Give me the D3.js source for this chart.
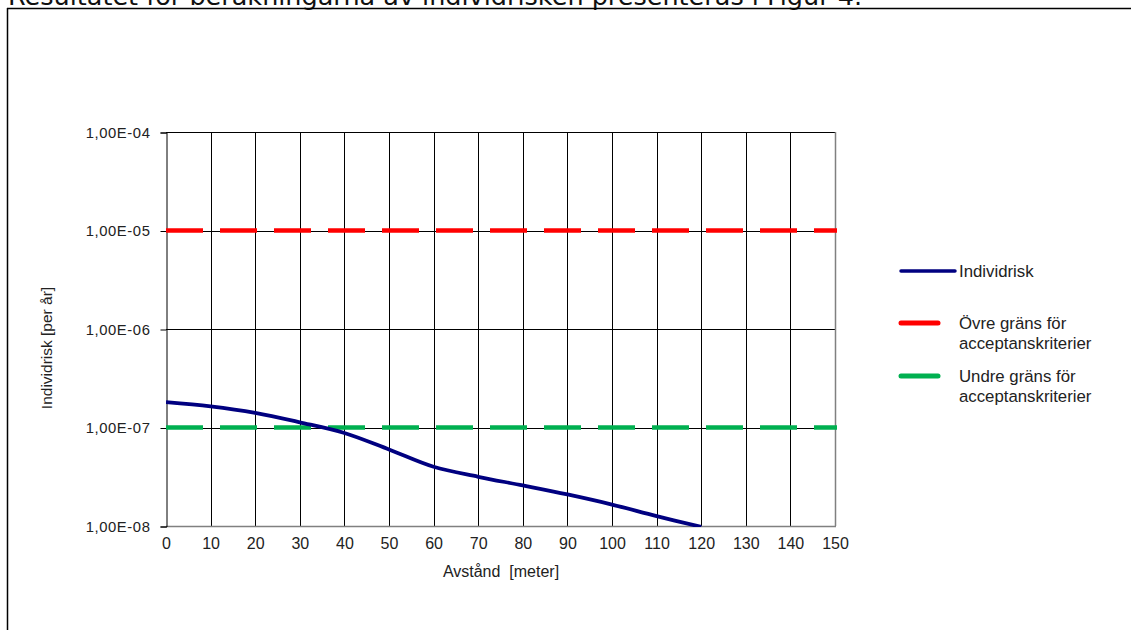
<!DOCTYPE html>
<html><head><meta charset="utf-8">
<script src="https://cdn.jsdelivr.net/npm/d3@7"></script>
<style>
body{margin:0;background:#fff;}
svg{display:block;}
</style></head>
<body>
<svg id="c" width="1131" height="630"></svg>
<script>
const distances = [0,10,20,30,40,50,60,70,80,90,100,110,120];
const individrisk = [1.81e-7,1.64e-7,1.41e-7,1.13e-7,8.8e-8,5.98e-8,3.99e-8,3.16e-8,2.58e-8,2.09e-8,1.65e-8,1.26e-8,9.8e-9];
const upperLimit = 1e-5;
const lowerLimit = 1e-7;
const xTicks = [0,10,20,30,40,50,60,70,80,90,100,110,120,130,140,150];
const yTicks = [1e-4,1e-5,1e-6,1e-7,1e-8];
const yTickLabels = ["1,00E-04","1,00E-05","1,00E-06","1,00E-07","1,00E-08"];
const seriesNames = ["Individrisk","Övre gräns för|acceptanskriterier","Undre gräns för|acceptanskriterier"];
const seriesColors = ["#000080","#FF0000","#00B050"];

const svg = d3.select("#c");
const font = "Liberation Sans, Arial, sans-serif";

// page fragment
svg.append("text").attr("x",8).attr("y",4.5).attr("font-family","DejaVu Sans, sans-serif")
  .attr("font-size",25.5).attr("fill","#111")
  .text("Resultatet för beräkningarna av individrisken presenteras i Figur 4.");
svg.append("line").attr("x1",7).attr("x2",1131).attr("y1",8.5).attr("y2",8.5).attr("stroke","#000").attr("stroke-width",1.5);
svg.append("line").attr("x1",7.5).attr("x2",7.5).attr("y1",8).attr("y2",630).attr("stroke","#000").attr("stroke-width",1.5);

const L=166, R=835, T=132, B=526;
const x = d3.scaleLinear().domain([0,150]).range([L,R]);
const y = d3.scaleLog().domain([1e-8,1e-4]).range([B,T]);

// vertical gridlines
svg.append("g").selectAll("line").data(xTicks.slice(1,-1)).join("line")
  .attr("x1",d=>Math.round(x(d))+0.5).attr("x2",d=>Math.round(x(d))+0.5)
  .attr("y1",T).attr("y2",B).attr("stroke","#000").attr("stroke-width",1);
// horizontal gridlines
svg.append("g").selectAll("line").data(yTicks.slice(1,-1)).join("line")
  .attr("x1",L).attr("x2",R).attr("y1",d=>Math.round(y(d))+0.5).attr("y2",d=>Math.round(y(d))+0.5)
  .attr("stroke","#000").attr("stroke-width",1);
// border
svg.append("line").attr("x1",L).attr("x2",R).attr("y1",T+0.5).attr("y2",T+0.5).attr("stroke","#000");
svg.append("line").attr("x1",R+0.5).attr("x2",R+0.5).attr("y1",T).attr("y2",B).attr("stroke","#808080").attr("stroke-width",1.5);
svg.append("line").attr("x1",L).attr("x2",R+1).attr("y1",B+0.5).attr("y2",B+0.5).attr("stroke","#808080").attr("stroke-width",1.5);

// y axis
const yAxis = d3.axisLeft(y).tickValues(yTicks).tickSize(6).tickPadding(10)
  .tickFormat((d,i)=>yTickLabels[i]);
const gy = svg.append("g").attr("transform",`translate(${L+0.5},0.5)`).call(yAxis);
gy.select(".domain").attr("stroke","#000");
gy.selectAll(".tick line").attr("stroke","#000");
gy.selectAll("text").attr("font-family",font).attr("font-size",14.8).attr("fill","#222").attr("letter-spacing","0.6px");

// x axis
const xAxis = d3.axisBottom(x).tickValues(xTicks).tickSize(0).tickPadding(12);
const gx = svg.append("g").attr("transform",`translate(0,${B})`).call(xAxis);
gx.select(".domain").remove();
gx.selectAll("text").attr("font-family",font).attr("font-size",16).attr("fill","#222");

// clip
svg.append("clipPath").attr("id","plot").append("rect").attr("x",L).attr("y",T).attr("width",R-L+2).attr("height",B-T+1);

// limit lines
svg.append("line").attr("clip-path","url(#plot)").attr("x1",L).attr("x2",R+2).attr("y1",y(upperLimit)).attr("y2",y(upperLimit))
  .attr("stroke",seriesColors[1]).attr("stroke-width",4.5).attr("stroke-dasharray","37,17");
svg.append("line").attr("clip-path","url(#plot)").attr("x1",L).attr("x2",R+2).attr("y1",y(lowerLimit)).attr("y2",y(lowerLimit))
  .attr("stroke",seriesColors[2]).attr("stroke-width",4.5).attr("stroke-dasharray","37,17");

// individrisk line
const line = d3.line().x((d,i)=>x(distances[i])).y(d=>y(d)).curve(d3.curveCatmullRom.alpha(0.5));
svg.append("path").attr("clip-path","url(#plot)").datum(individrisk).attr("d",line)
  .attr("fill","none").attr("stroke",seriesColors[0]).attr("stroke-width",3.8);

// axis titles
svg.append("text").attr("x",501).attr("y",577).attr("text-anchor","middle")
  .attr("font-family",font).attr("font-size",16).attr("fill","#222").attr("xml:space","preserve").text("Avstånd  [meter]");
svg.append("text").attr("transform","translate(52,348) rotate(-90)").attr("text-anchor","middle")
  .attr("font-family",font).attr("font-size",15.5).attr("fill","#222").text("Individrisk [per år]");

// legend
const legY = [271,323,376];
const legend = svg.append("g");
seriesNames.forEach((name,i)=>{
  const g = legend.append("g");
  g.append("line").attr("x1",901).attr("x2",i===0?955:938).attr("y1",legY[i]).attr("y2",legY[i])
    .attr("stroke",seriesColors[i]).attr("stroke-width",i===0?3.5:5).attr("stroke-linecap","round");
  const parts = name.split("|");
  parts.forEach((p,j)=>{
    g.append("text").attr("x",959).attr("y",legY[i]+5.5+j*20).attr("font-family",font).attr("font-size",16.8)
      .attr("fill","#222").text(p);
  });
});
</script>
</body></html>
